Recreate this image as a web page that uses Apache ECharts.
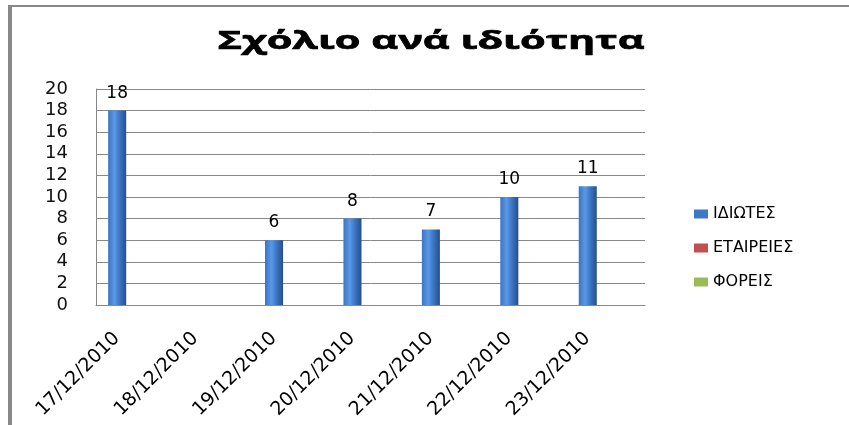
<!DOCTYPE html>
<html>
<head>
<meta charset="utf-8">
<script src="https://cdn.jsdelivr.net/npm/echarts@6/dist/echarts.min.js"></script>
<style>
html,body{margin:0;padding:0;background:#fff;}
#chart{width:849px;height:425px;}
</style>
</head>
<body>
<div id="chart"></div>
<script>
const titleText = 'Σχόλιο ανά ιδιότητα';
const categories = ['17/12/2010','18/12/2010','19/12/2010','20/12/2010','21/12/2010','22/12/2010','23/12/2010'];
const seriesNames = ['ΙΔΙΩΤΕΣ','ΕΤΑΙΡΕΙΕΣ','ΦΟΡΕΙΣ'];
const idiotes = [18, null, 6, 8, 7, 10, 11];
const etaireies = [null, null, null, null, null, null, null];
const foreis = [null, null, null, null, null, null, null];
const yTicks = [0, 2, 4, 6, 8, 10, 12, 14, 16, 18, 20];

function grad(dark, light, mid) {
  return new echarts.graphic.LinearGradient(0, 0, 1, 0, [
    {offset: 0, color: mid},
    {offset: 0.35, color: light},
    {offset: 0.65, color: mid},
    {offset: 1, color: dark}
  ]);
}
const colors = [
  grad('#264f8a', '#5a98e6', '#3b74c4'),
  grad('#8c2a28', '#e06a66', '#c0504d'),
  grad('#6a8a30', '#b8d878', '#9bbb59')
];
const legendColors = ['#3f76c6', '#c0504d', '#9bbb59'];

// title is drawn wide like the reference (stretched text)
const titleFont = 'bold 24px "Open Sans"';
const mctx = document.createElement('canvas').getContext('2d');
mctx.font = titleFont;
const titleScaleX = 427 / mctx.measureText(titleText).width;

const chart = echarts.init(document.getElementById('chart'), null, {renderer: 'canvas'});
const labelStyle = {
  show: true, position: 'top', distance: 9,
  color: '#000', fontFamily: 'DejaVu Sans', fontSize: 17
};
const mk = (name, data, i) => ({
  name: name, type: 'bar', data: data,
  barGap: '0%', barCategoryGap: '31%',
  itemStyle: {color: colors[i]},
  label: labelStyle,
  emphasis: {disabled: true}
});
chart.setOption({
  animation: false,
  backgroundColor: '#fff',
  color: legendColors,
  legend: {
    orient: 'vertical',
    left: 689,
    top: 201,
    itemWidth: 14,
    itemHeight: 9,
    itemGap: 18,
    icon: 'rect',
    textStyle: {fontFamily: 'DejaVu Sans', fontSize: 16, color: '#000', lineHeight: 16},
    data: seriesNames.map((n, i) => ({name: n, itemStyle: {color: legendColors[i]}}))
  },
  grid: {left: 96, right: 204, top: 89, bottom: 120, containLabel: false},
  xAxis: {
    type: 'category',
    data: categories,
    axisLine: {show: true, lineStyle: {color: '#888', width: 1}},
    axisTick: {show: false},
    axisLabel: {
      rotate: 45, interval: 0, margin: 12,
      padding: [0, 26, 0, 0],
      fontFamily: 'DejaVu Sans', fontSize: 19, color: '#000'
    }
  },
  yAxis: {
    type: 'value',
    min: yTicks[0], max: yTicks[yTicks.length - 1], interval: 2,
    axisLine: {show: true, lineStyle: {color: '#888', width: 1}},
    axisTick: {show: false},
    splitLine: {show: true, lineStyle: {color: '#888', width: 1}},
    axisLabel: {margin: 28, fontFamily: 'DejaVu Sans', fontSize: 18, color: '#111'}
  },
  graphic: [
    {type: 'line', shape: {x1: 10, y1: 6, x2: 849, y2: 6}, style: {stroke: '#888', lineWidth: 2}},
    {type: 'line', shape: {x1: 10, y1: 5, x2: 10, y2: 425}, style: {stroke: '#888', lineWidth: 4}},
    {type: 'text', x: 431, y: 42, scaleX: titleScaleX, scaleY: 1.05,
     style: {text: titleText, font: titleFont, fill: '#000', align: 'center', verticalAlign: 'middle',
             stroke: '#000', lineWidth: 0.6}}
  ],
  series: [mk(seriesNames[0], idiotes, 0), mk(seriesNames[1], etaireies, 1), mk(seriesNames[2], foreis, 2)]
});
</script>
</body>
</html>
